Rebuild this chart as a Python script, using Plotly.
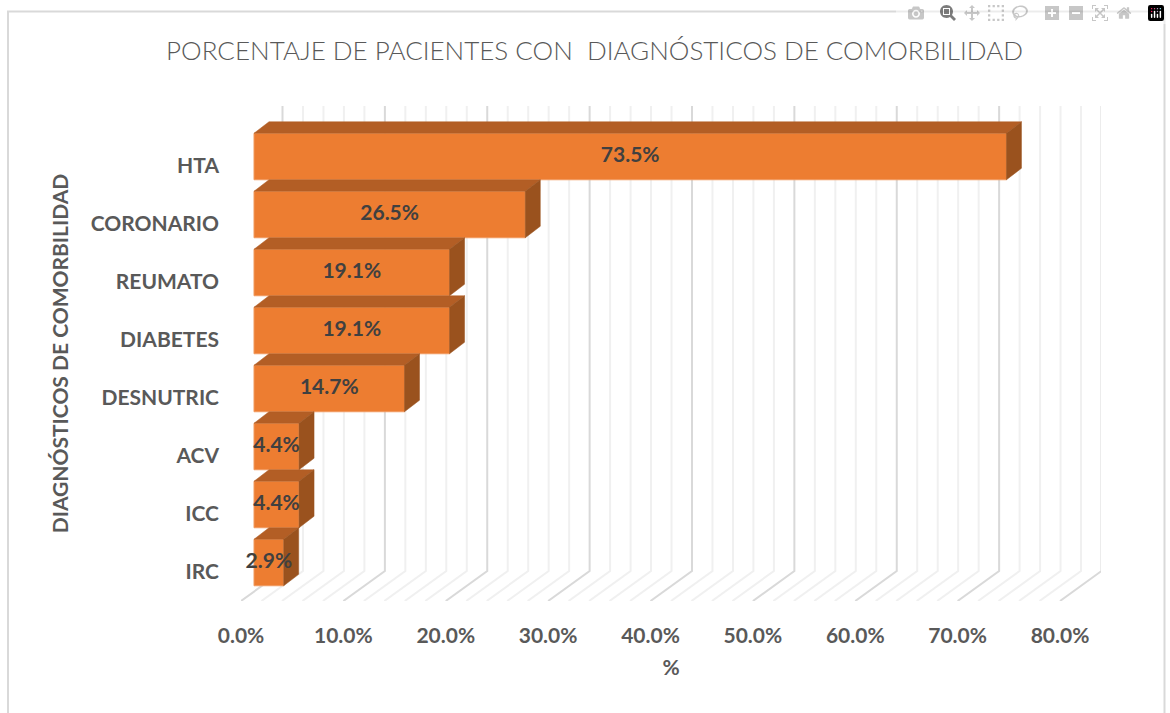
import plotly.graph_objects as go

# ---- data ----
categories = ["IRC", "ICC", "ACV", "DESNUTRIC", "DIABETES", "REUMATO", "CORONARIO", "HTA"]
values = [2.9, 4.4, 4.4, 14.7, 19.1, 19.1, 26.5, 73.5]
major_ticks = [0, 10, 20, 30, 40, 50, 60, 70, 80]
minor_ticks = [2, 4, 6, 8, 12, 14, 16, 18, 22, 24, 26, 28, 32, 34, 36, 38, 42, 44, 46, 48,
               52, 54, 56, 58, 62, 64, 66, 68, 72, 74, 76, 78]
title_text = "PORCENTAJE DE PACIENTES CON  DIAGNÓSTICOS DE COMORBILIDAD"
ytitle_text = "DIAGNÓSTICOS DE COMORBILIDAD"
xtitle_text = "%"

# ---- layout geometry (px) ----
W, H = 1170, 713
L, R, T, B = 241, 1101, 106, 601      # plot rectangle in page pixels
PX_X = (1060 - 241) / 80              # pixels per percent
PX_Y = 58.0                           # pixels per category
X_MAX = (R - L) / PX_X
Y_MIN = -0.5
Y_MAX = Y_MIN + (B - T) / PX_Y

WALL_DX = 41.5 / PX_X                 # depth of the floor
WALL_DY = 30 / PX_Y
BAR_BASE = 13 / PX_X                  # bar front starts here
BAR_LIFT = 9.5 / PX_Y
BAR_W = 46.5 / PX_Y
DEPTH_X = 15 / PX_X
DEPTH_Y = 11.5 / PX_Y

FRONT = "#ED7D31"
TOP = "#B35E25"
SIDE = "#9A521E"
FONT = "Lato"

def paper_x(px):
    return (px - L) / (R - L)

def paper_y(py):
    return (B - py) / (B - T)

fig = go.Figure()

# floor + back wall gridlines as below-layer shapes
shapes = []
for ticks, col in ((minor_ticks, "#F0F0F0"), (major_ticks, "#D9D9D9")):
    for t in ticks:
        xb = t + WALL_DX
        yb = Y_MIN + WALL_DY
        shapes.append(dict(type="path", layer="below", xref="x", yref="y",
                           path=f"M{t},{Y_MIN} L{xb},{yb} L{xb},{Y_MAX}",
                           line=dict(color=col, width=2)))
# chart frame
shapes.append(dict(type="rect", layer="below", xref="paper", yref="paper",
                   x0=paper_x(8), x1=paper_x(1164.5), y0=paper_y(730), y1=paper_y(11.5),
                   line=dict(color="#D9D9D9", width=2), fillcolor="rgba(0,0,0,0)"))

ys = [i + BAR_LIFT for i in range(len(values))]

# front faces
fig.add_trace(go.Bar(orientation="h", y=ys, x=values, base=[BAR_BASE] * len(values), width=BAR_W,
                     marker=dict(color=FRONT, line=dict(color="#F19A5F", width=1)),
                     hoverinfo="skip", showlegend=False))

# top and side faces, back to front
for i in range(len(values) - 1, -1, -1):
    v, c = values[i], ys[i]
    x0, x1 = BAR_BASE, BAR_BASE + v
    lo, hi = c - BAR_W / 2, c + BAR_W / 2
    fig.add_trace(go.Scatter(
        x=[x0, x1, x1 + DEPTH_X, x0 + DEPTH_X, x0],
        y=[hi, hi, hi + DEPTH_Y, hi + DEPTH_Y, hi],
        mode="lines", fill="toself", fillcolor=TOP, line=dict(color=TOP, width=0.5),
        hoverinfo="skip", showlegend=False))
    fig.add_trace(go.Scatter(
        x=[x1, x1 + DEPTH_X, x1 + DEPTH_X, x1, x1],
        y=[hi, hi + DEPTH_Y, lo + DEPTH_Y, lo, hi],
        mode="lines", fill="toself", fillcolor=SIDE, line=dict(color=SIDE, width=0.5),
        hoverinfo="skip", showlegend=False))

# data labels
fig.add_trace(go.Scatter(
    x=[BAR_BASE + v / 2 for v in values], y=ys, mode="text",
    text=[f"{v:.1f}%" for v in values], textposition="middle center",
    textfont=dict(family=FONT, size=21, color="#404040", weight="bold"),
    hoverinfo="skip", showlegend=False, cliponaxis=False))

fig.update_layout(
    width=W, height=H, autosize=False,
    margin=dict(l=L, r=W - R, t=T, b=H - B, pad=0),
    paper_bgcolor="white", plot_bgcolor="rgba(0,0,0,0)",
    shapes=shapes,
    title=dict(text=title_text, x=594.5 / W, xanchor="center", xref="paper" if False else "container",
               y=1 - 51 / H, yanchor="middle",
               font=dict(family="Lato Light, " + FONT, size=26, color="#595959")),
    xaxis=dict(range=[0, X_MAX], tickvals=major_ticks,
               ticktext=[f"{t:.1f}%" for t in major_ticks],
               showgrid=False, zeroline=False, showline=False, ticks="",
               ticklabelstandoff=20,
               tickfont=dict(family=FONT, size=21, color="#595959", weight="bold"),
               title=dict(text=xtitle_text, standoff=14,
                          font=dict(family=FONT, size=21, color="#595959", weight="bold"))),
    yaxis=dict(range=[Y_MIN, Y_MAX], tickvals=list(range(len(categories))), ticktext=categories,
               showgrid=False, zeroline=False, showline=False, ticks="",
               ticklabelstandoff=21,
               tickfont=dict(family=FONT, size=21, color="#595959", weight="bold"),
               title=dict(text=ytitle_text, standoff=16,
                          font=dict(family=FONT, size=21, color="#595959", weight="bold"))),
)

fig.write_html("out.html", post_script="document.body.style.margin='0';document.body.style.overflow='hidden';")
